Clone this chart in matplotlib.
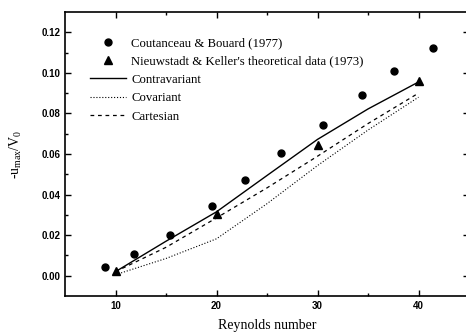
"""Centreline velocity vs Reynolds number, comparison of formulations."""
import matplotlib
matplotlib.use("Agg")
import matplotlib.pyplot as plt

# experimental / reference data
re_exp = [9.0, 11.8, 15.4, 19.6, 22.8, 26.4, 30.5, 34.4, 37.6, 41.4]
u_exp = [0.0045, 0.0105, 0.0200, 0.0344, 0.0470, 0.0605, 0.0745, 0.0893, 0.1010, 0.1125]

re_nk = [10, 20, 30, 40]
u_nk = [0.0025, 0.0305, 0.0645, 0.0960]

# computed curves
re_num = [10, 15, 20, 25, 30, 35, 40]
u_contra = [0.0020, 0.0170, 0.0315, 0.0494, 0.0672, 0.0822, 0.0955]
u_cov = [0.0005, 0.0085, 0.0182, 0.0355, 0.0543, 0.0718, 0.0880]
u_cart = [0.0020, 0.0140, 0.0285, 0.0433, 0.0589, 0.0750, 0.0900]

plt.rcParams["font.family"] = ["Liberation Serif", "DejaVu Serif"]
plt.rcParams["mathtext.fontset"] = "custom"
plt.rcParams["mathtext.rm"] = "Liberation Serif"

fig = plt.figure(figsize=(4.66, 3.34), dpi=100)
ax = fig.add_axes([65 / 466, 1 - 296 / 334, 404 / 466, 284 / 334])

ax.plot(re_exp, u_exp, "o", color="black", ms=5, label="Coutanceau & Bouard (1977)")
ax.plot(re_nk, u_nk, "^", color="black", ms=5.5, label="Nieuwstadt & Keller's theoretical data (1973)")
ax.plot(re_num, u_contra, "-", color="black", lw=1.0, label="Contravariant")
ax.plot(re_num, u_cov, ":", color="black", lw=0.8, label="Covariant")
ax.plot(re_num, u_cart, "--", color="black", lw=0.9, dashes=(3, 3), label="Cartesian")

ax.set_xlim(5, 45)
ax.set_ylim(-0.01, 0.13)
ax.set_xticks([10, 20, 30, 40])
ax.set_xticks([15, 25, 35], minor=True)
ax.set_yticks([0.00, 0.02, 0.04, 0.06, 0.08, 0.10, 0.12])
ax.set_yticks([0.01, 0.03, 0.05, 0.07, 0.09, 0.11], minor=True)
ax.set_yticklabels([f"{v:.2f}" for v in ax.get_yticks()])

ax.tick_params(which="both", direction="in", top=True, right=True, width=1.0)
ax.tick_params(which="major", length=4)
ax.tick_params(which="minor", length=2)
for lbl in ax.get_xticklabels() + ax.get_yticklabels():
    lbl.set_family(["Liberation Sans", "DejaVu Sans"])
    lbl.set_fontweight("bold")
    lbl.set_fontsize(7)
for sp in ax.spines.values():
    sp.set_linewidth(1.2)

ax.set_xlabel("Reynolds number", fontsize=10, labelpad=6)
ax.set_ylabel(r"-u$_{\rm max}$/V$_{\rm 0}$", fontsize=10, labelpad=12)

ax.legend(loc="upper left", bbox_to_anchor=(0.05, 0.93), frameon=False, fontsize=9.2,
          handlelength=2.8, handletextpad=0.4, labelspacing=0.5, borderaxespad=0)

fig.savefig("out.png", dpi=100)
